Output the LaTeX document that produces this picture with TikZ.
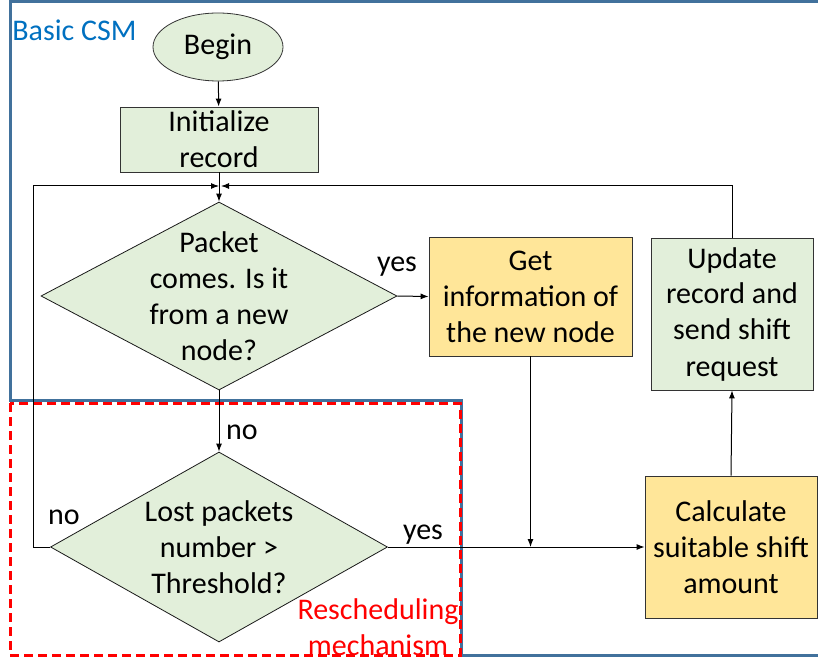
\documentclass[tikz,border=0pt]{standalone}
\usepackage{fontspec}
\setmainfont{Carlito}
\usetikzlibrary{shapes.geometric,arrows.meta,positioning}

\definecolor{stepgreen}{RGB}{226,239,218}
\definecolor{stepyellow}{RGB}{255,230,153}
\definecolor{csmblue}{RGB}{65,113,156}
\definecolor{csmtext}{RGB}{0,112,192}

\tikzset{
  every node/.style={font=\fontsize{15pt}{18pt}\selectfont},
  greenbox/.style={draw=black!80,fill=stepgreen,align=center,inner sep=0},
  yellowbox/.style={draw=black!80,fill=stepyellow,align=center,inner sep=0},
  decision/.style={diamond,draw=black!90,fill=stepgreen,inner sep=0},
  arr/.style={-{Latex[length=4pt,width=3pt]},black,line width=0.5pt}
}

\begin{document}
\begin{tikzpicture}[x=0.5pt,y=-0.5pt]
    \useasboundingbox (0,0) rectangle (818,663);
    % frame of the basic scheme and the rescheduling part
    \draw[csmblue,line width=1.5pt] (840,2) -- (10,2) -- (10,400) -- (461,400) -- (461,655) -- (840,655);
    \draw[red,line width=1.5pt,dash pattern=on 4.5pt off 2.5pt] (10,403) rectangle (460,655);
    \node[text=csmtext,anchor=west,inner sep=0] (csm) at (12,30) {Basic CSM};
    \node[text=red,align=center,inner sep=0] (resched) at (378,627) {Rescheduling\\mechanism};

    \node[greenbox,ellipse,minimum width=65pt,minimum height=34pt] (begin) at (218,47) {Begin};
    \node[greenbox,minimum width=99pt,minimum height=32.5pt] (init) at (219,139.5) {Initialize\\record};
    \node[decision,minimum width=178pt,minimum height=94pt,
          label={[align=center]center:Packet\\comes. Is it\\from a new\\node?}] (newnode) at (219,296) {};
    \node[yellowbox,minimum width=101.5pt,minimum height=59.5pt] (info) at (530.5,296.5) {Get\\information of\\the new node};
    \node[greenbox,minimum width=81pt,minimum height=76pt] (update) at (732,314) {Update\\record and\\send shift\\request};
    \node[decision,minimum width=168.5pt,minimum height=95pt,
          label={[align=center]center:Lost packets\\number >\\Threshold?}] (lost) at (219,547) {};
    \node[yellowbox,minimum width=86pt,minimum height=71pt] (calc) at (731,547) {Calculate\\suitable shift\\amount};

    \coordinate (join) at (219,186);
    \coordinate (meet) at (info.south |- calc.west);

    \draw[arr] (begin) -- (init);
    \draw[arr] (init) -- (newnode.north);
    \draw[arr] (newnode.east) -- (info.west);
    \node[inner sep=0] (yes1) at (397,267) {yes};
    \draw[arr] (newnode.south) -- (lost.north);
    \node[inner sep=0] (no1) at (242,432) {no};
    \draw[arr] (lost.west) -- (33,547) -- (33,186) -- (join);
    \node[inner sep=0] (no2) at (64,517) {no};
    \draw[arr] (lost.east) -- (calc.west);
    \node[inner sep=0] (yes2) at (423,535) {yes};
    \draw[arr] (info.south) -- (meet);
    \draw[arr] (calc.north) -- (update.south);
    \draw[arr] (update.north) -- (update.north |- join) -- ([xshift=1pt]join);
\end{tikzpicture}
\end{document}
